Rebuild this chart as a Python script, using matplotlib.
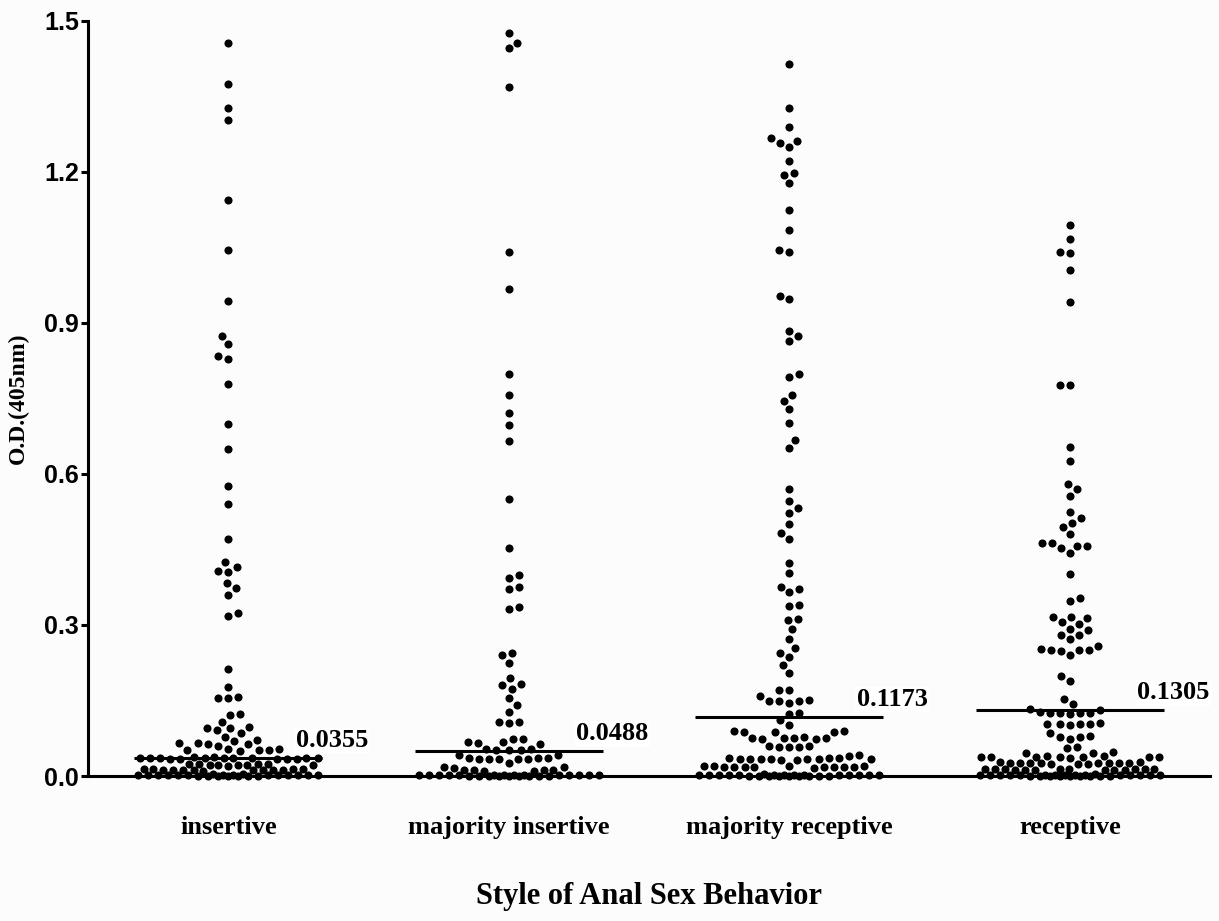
#!/usr/bin/env python3
"""Scatter dot plot of O.D. values by style of anal sex behavior."""
import numpy as np
import matplotlib
matplotlib.use('Agg')
import matplotlib.pyplot as plt

groups = ['insertive', 'majority insertive', 'majority receptive', 'receptive']
medians = [0.0355, 0.0488, 0.1173, 0.1305]
median_labels = ['0.0355', '0.0488', '0.1173', '0.1305']

insertive = [
    1.455, 1.374, 1.326, 1.303, 1.144, 1.045, 0.944, 0.858, 0.874, 0.834, 0.829,
    0.778, 0.700, 0.650, 0.575, 0.540, 0.470, 0.416, 0.406, 0.408, 0.425,
    0.383, 0.373, 0.359, 0.324, 0.318, 0.212, 0.177, 0.157, 0.155, 0.154,
    0.123, 0.122, 0.108, 0.096, 0.097, 0.095, 0.091, 0.085, 0.078, 0.071, 0.070,
    0.065, 0.064, 0.060, 0.066, 0.063,
    0.053, 0.051, 0.052, 0.054, 0.050, 0.052,
    0.036, 0.034, 0.035, 0.037, 0.033, 0.035, 0.036, 0.034, 0.035, 0.033,
    0.036, 0.035, 0.034, 0.037, 0.035, 0.036,
    0.023, 0.021, 0.022, 0.024, 0.022, 0.020, 0.023, 0.022, 0.021, 0.024,
    0.012, 0.011, 0.013, 0.012, 0.010, 0.012, 0.013, 0.011, 0.012, 0.014,
    0.011, 0.012, 0.013,
    0.002, 0.001, 0.003, 0.002, 0.004, 0.001, 0.002, 0.003, 0.000, 0.002,
    0.001, 0.003, 0.002, 0.004, 0.001, 0.002, 0.003, 0.002, 0.001, 0.002,
    0.003, 0.000, 0.002,
]
maj_insertive = [
    1.475, 1.445, 1.456, 1.369, 1.041, 0.967, 0.798, 0.757, 0.720, 0.697,
    0.666, 0.550, 0.452, 0.399, 0.394, 0.376, 0.371, 0.336, 0.332, 0.245,
    0.240, 0.225, 0.194, 0.182, 0.180, 0.173, 0.154, 0.141, 0.128,
    0.107, 0.108, 0.106, 0.073, 0.074, 0.068, 0.064, 0.066, 0.067,
    0.052, 0.053, 0.051, 0.052, 0.054,
    0.042, 0.041,
    0.034, 0.035, 0.033, 0.034, 0.036, 0.034, 0.033, 0.035,
    0.025, 0.017, 0.018, 0.016,
    0.011, 0.010, 0.012, 0.011, 0.010, 0.012,
    0.002, 0.001, 0.003, 0.000, 0.002, 0.001, 0.003, 0.002, 0.001, 0.002,
    0.000, 0.003, 0.002, 0.001, 0.002, 0.003, 0.001, 0.002, 0.000, 0.002,
    0.001, 0.003, 0.002,
]
maj_receptive = [
    1.415, 1.326, 1.289, 1.268, 1.262, 1.258, 1.249, 1.221, 1.198, 1.194,
    1.177, 1.124, 1.084, 1.045, 1.040, 0.954, 0.947, 0.884, 0.873, 0.864,
    0.798, 0.793, 0.757, 0.745, 0.728, 0.702, 0.667, 0.651, 0.571, 0.547,
    0.533, 0.522, 0.500, 0.483, 0.470, 0.424, 0.403, 0.376, 0.371, 0.365,
    0.338, 0.339, 0.312, 0.310, 0.292, 0.273, 0.254, 0.245, 0.237, 0.220,
    0.204, 0.171, 0.170, 0.158, 0.150, 0.151, 0.149, 0.150, 0.145, 0.124,
    0.125, 0.111, 0.101,
    0.088, 0.089, 0.087, 0.088, 0.090,
    0.075, 0.076, 0.074, 0.075, 0.077, 0.075, 0.074,
    0.058, 0.059, 0.057, 0.058, 0.060,
    0.040, 0.041,
    0.034, 0.033, 0.035, 0.034, 0.032, 0.033, 0.035, 0.034, 0.033, 0.034,
    0.032, 0.035,
    0.018, 0.019, 0.017, 0.018, 0.020, 0.018, 0.017, 0.019, 0.018, 0.016,
    0.018, 0.019, 0.017,
    0.002, 0.001, 0.003, 0.002, 0.000, 0.001, 0.003, 0.002, 0.004, 0.001,
    0.002, 0.003, 0.000, 0.002, 0.001, 0.003, 0.002, 0.001, 0.002, 0.003,
    0.000, 0.002, 0.001, 0.002,
]
receptive = [
    1.094, 1.066, 1.040, 1.038, 1.005, 0.942, 0.777, 0.776, 0.654, 0.626,
    0.580, 0.571, 0.556, 0.525, 0.512, 0.502, 0.495, 0.480, 0.462, 0.463,
    0.457, 0.456, 0.453, 0.442, 0.401, 0.354, 0.348, 0.315, 0.316, 0.314,
    0.306, 0.302, 0.291, 0.292, 0.280, 0.281, 0.272, 0.259, 0.250, 0.251,
    0.249, 0.250, 0.252, 0.240, 0.199, 0.189, 0.152, 0.143, 0.132, 0.133,
    0.126, 0.125, 0.127, 0.126, 0.124, 0.126,
    0.103, 0.104, 0.102, 0.103, 0.105, 0.103,
    0.085, 0.078, 0.079, 0.077, 0.074, 0.058, 0.055,
    0.046, 0.047, 0.045,
    0.038, 0.037, 0.039, 0.038, 0.036, 0.038, 0.037, 0.039, 0.038, 0.037,
    0.025, 0.026, 0.024, 0.025, 0.027, 0.025, 0.024, 0.026, 0.025, 0.024,
    0.026, 0.025, 0.027,
    0.013, 0.012, 0.014, 0.013, 0.011, 0.012, 0.014, 0.013, 0.012, 0.011,
    0.013, 0.012, 0.014, 0.013,
    0.002, 0.001, 0.003, 0.002, 0.000, 0.001, 0.003, 0.002, 0.004, 0.001,
    0.002, 0.003, 0.000, 0.002, 0.001, 0.003, 0.002, 0.001, 0.002, 0.003,
    0.000, 0.002, 0.001, 0.002, 0.003,
]

PX_X, PX_Y = 280.7, 503.5   # pixels per data unit (x, y)


def swarm_offsets(vals, diam=10.0, half_w=90.0):
    """Greedy beeswarm: put each point as close to the centre as it fits."""
    v = np.asarray(vals, float)
    order = np.argsort(v, kind='stable')
    cand = np.arange(-half_w, half_w + 0.01, 0.5)
    xs = np.zeros(len(v)); px, py = [], []
    flip = 1.0
    for i in order:
        y = v[i] * PX_Y
        if px:
            d = np.hypot(cand[:, None] - np.array(px)[None, :], y - np.array(py)[None, :]).min(axis=1)
        else:
            d = np.full(cand.shape, np.inf)
        ok = d >= diam
        if ok.any():
            x = cand[np.argmin(np.where(ok, np.abs(cand) - 1e-3 * flip * cand, np.inf))]
        else:
            x = cand[np.argmax(d - 1e-3 * np.abs(cand))]
        flip = -flip
        px.append(x); py.append(y)
        xs[i] = x / PX_X
    return xs


def main() -> None:
    plt.rcParams.update({'font.family': 'serif', 'font.serif': ['Liberation Serif', 'DejaVu Serif'],
                         'font.weight': 'bold', 'axes.linewidth': 2.2})
    fig = plt.figure(figsize=(12.19, 9.21), dpi=100, facecolor='#fcfcfc')
    ax = fig.add_axes([0.0722, 0.1574, 0.9204, 0.8201], facecolor='#fcfcfc')

    data = [insertive, maj_insertive, maj_receptive, receptive]
    for k, vals in enumerate(data):
        xs = k + swarm_offsets(vals)
        ax.scatter(xs, vals, s=34, color='black', linewidths=0, zorder=3, clip_on=False)
        ax.hlines(medians[k], k - 0.335, k + 0.335, color='black', linewidth=2.2, zorder=4)
        ax.text(k + 0.24, medians[k] + 0.022, median_labels[k], fontsize=19, fontweight='bold',
                ha='left', va='baseline', zorder=5,
                bbox=dict(facecolor='white', edgecolor='none', pad=1.0))

    ax.set_xlim(-0.5, 3.5); ax.set_ylim(0, 1.5)
    ax.spines['top'].set_visible(False); ax.spines['right'].set_visible(False)
    ax.set_yticks([0.0, 0.3, 0.6, 0.9, 1.2, 1.5])
    ax.set_yticklabels(['0.0', '0.3', '0.6', '0.9', '1.2', '1.5'], family='Liberation Sans',
                       fontsize=18, fontweight='bold')
    ax.tick_params(axis='y', length=5, width=2.2, pad=1.5)
    ax.set_xticks(range(len(groups)))
    ax.set_xticklabels(groups, fontsize=19, fontweight='bold')
    ax.tick_params(axis='x', length=0, pad=29)
    ax.set_xlabel('Style of Anal Sex Behavior', fontsize=22, fontweight='bold', va='center')
    ax.xaxis.set_label_coords(0.5, -0.159)
    ax.set_ylabel('O.D.(405nm)', fontsize=17, fontweight='bold', va='center')
    ax.yaxis.set_label_coords(-0.062, 0.5)

    fig.savefig('out.png', dpi=100, facecolor=fig.get_facecolor())
    plt.close(fig)


if __name__ == '__main__':
    main()
